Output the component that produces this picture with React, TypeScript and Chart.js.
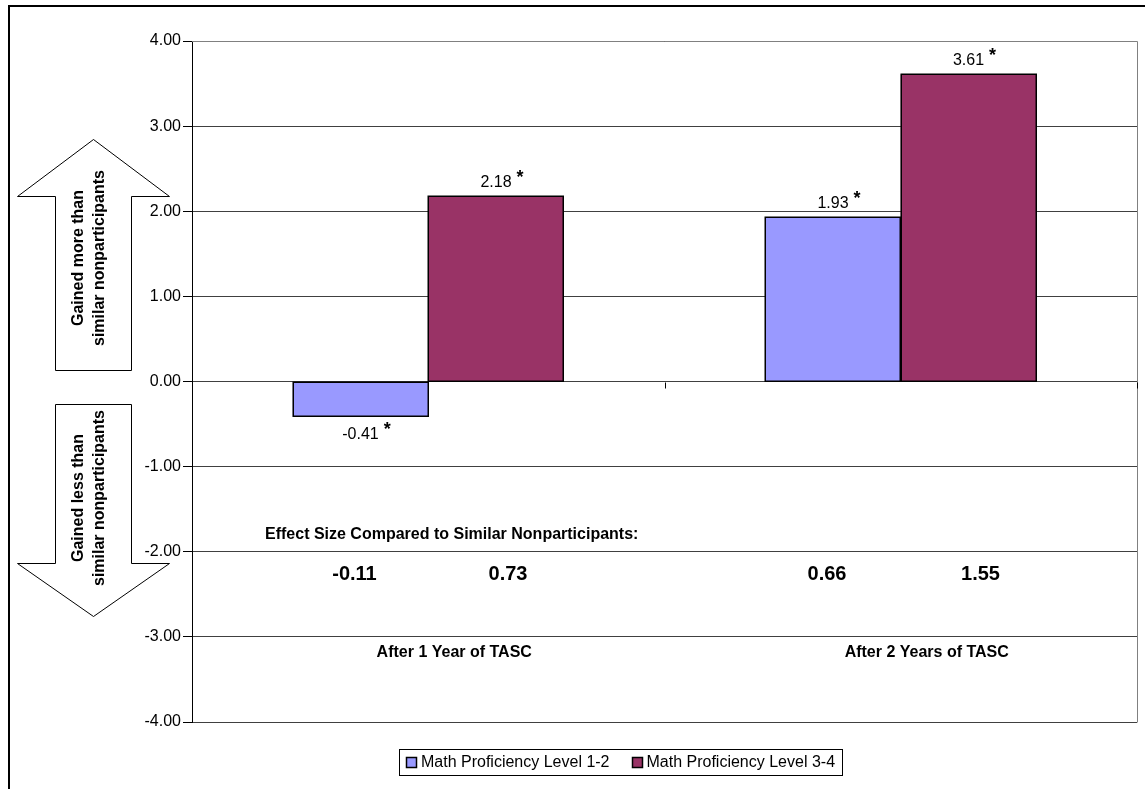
import React, { useEffect, useRef } from "react";
import { Chart, registerables } from "chart.js";

Chart.register(...registerables);

const categories = ["After 1 Year of TASC", "After 2 Years of TASC"];
const seriesNames = ["Math Proficiency Level 1-2", "Math Proficiency Level 3-4"];
const level12 = [-0.41, 1.93];
const level34 = [2.18, 3.61];
const significant12 = [true, true];
const significant34 = [true, true];
const effect12 = ["-0.11", "0.66"];
const effect34 = ["0.73", "1.55"];
const effectTitle = "Effect Size Compared to Similar Nonparticipants:";
const upArrowLines = ["Gained more than", "similar nonparticipants"];
const downArrowLines = ["Gained less than", "similar nonparticipants"];
const yMin = -4;
const yMax = 4;
const yStep = 1;

const colors = ["#9999FF", "#993366"];
const FONT = "'Liberation Sans', Arial, sans-serif";

const W = 1145;
const H = 789;

const overlay = {
  id: "overlay",
  beforeDraw(chart: any) {
    const ctx = chart.ctx;
    ctx.save();
    ctx.fillStyle = "#fff";
    ctx.fillRect(0, 0, W, H);
    // outer frame
    ctx.fillStyle = "#000";
    ctx.fillRect(8, 5, W, 2);
    ctx.fillRect(8, 5, 2, H);
    ctx.restore();
  },
  afterDatasetsDraw(chart: any) {
    // crisp black bar outlines
    const ctx = chart.ctx;
    ctx.save();
    ctx.strokeStyle = "#000";
    ctx.lineWidth = 1.5;
    chart.data.datasets.forEach((_: any, di: number) => {
      chart.getDatasetMeta(di).data.forEach((bar: any) => {
        const x0 = bar.x - bar.width / 2;
        const top = Math.min(bar.y, bar.base);
        const h = Math.abs(bar.base - bar.y);
        ctx.strokeRect(Math.round(x0) + 0.25, Math.round(top) + 0.25, Math.round(bar.width), Math.round(h));
      });
    });
    ctx.restore();
  },
  afterDraw(chart: any) {
    const ctx = chart.ctx;
    const ca = chart.chartArea;
    const ys = chart.scales.y;
    const xs = chart.scales.x;
    ctx.save();

    // plot border (top/right grey)
    ctx.strokeStyle = "#808080";
    ctx.lineWidth = 1;
    ctx.beginPath();
    ctx.moveTo(ca.left, Math.round(ca.top) + 0.5);
    ctx.lineTo(Math.round(ca.right) + 0.5, Math.round(ca.top) + 0.5);
    ctx.lineTo(Math.round(ca.right) + 0.5, Math.round(ca.bottom) + 0.5);
    ctx.stroke();

    // category axis tick marks at zero
    const y0 = Math.round(ys.getPixelForValue(0)) + 0.5;
    ctx.strokeStyle = "#000";
    ctx.beginPath();
    const catW = (ca.right - ca.left) / categories.length;
    for (let i = 0; i <= categories.length; i++) {
      const x = Math.round(ca.left + i * catW) + 0.5;
      ctx.moveTo(x, y0);
      ctx.lineTo(x, y0 + 6);
    }
    ctx.stroke();

    // value labels with asterisks
    const sigs = [significant12, significant34];
    chart.data.datasets.forEach((ds: any, di: number) => {
      const meta = chart.getDatasetMeta(di);
      meta.data.forEach((bar: any, i: number) => {
        const v = ds.data[i];
        const txt = v.toFixed(2);
        ctx.font = `16px ${FONT}`;
        ctx.fillStyle = "#000";
        ctx.textAlign = "center";
        ctx.textBaseline = "alphabetic";
        const base = v >= 0 ? bar.y - 9 : bar.y + 23;
        ctx.fillText(txt, bar.x, base);
        if (sigs[di][i]) {
          const w = ctx.measureText(txt).width;
          ctx.font = `bold 18px ${FONT}`;
          ctx.textAlign = "left";
          ctx.fillText("*", bar.x + w / 2 + 5, base - 4);
        }
      });
    });

    // effect size block
    ctx.fillStyle = "#000";
    ctx.font = `bold 16px ${FONT}`;
    ctx.textAlign = "left";
    ctx.textBaseline = "middle";
    ctx.fillText(effectTitle, ca.left + 73, ys.getPixelForValue(-1.8));
    ctx.font = `bold 20px ${FONT}`;
    ctx.textAlign = "center";
    const m0 = chart.getDatasetMeta(0);
    const m1 = chart.getDatasetMeta(1);
    const yEff = ys.getPixelForValue(-2.27);
    categories.forEach((_, i) => {
      ctx.fillText(effect12[i], m0.data[i].x - 6, yEff);
      ctx.fillText(effect34[i], m1.data[i].x + 12, yEff);
    });

    // category labels
    ctx.font = `bold 16px ${FONT}`;
    const yCat = ys.getPixelForValue(-3.18);
    categories.forEach((c, i) => {
      ctx.fillText(c, xs.getPixelForValue(i) + 26, yCat);
    });

    // arrows
    const drawArrow = (pts: number[][]) => {
      ctx.beginPath();
      pts.forEach((p, k) => (k === 0 ? ctx.moveTo(p[0] + 0.5, p[1] + 0.5) : ctx.lineTo(p[0] + 0.5, p[1] + 0.5)));
      ctx.closePath();
      ctx.fillStyle = "#fff";
      ctx.fill();
      ctx.strokeStyle = "#000";
      ctx.lineWidth = 1;
      ctx.stroke();
    };
    drawArrow([
      [93, 139],
      [169, 196],
      [131, 196],
      [131, 370],
      [55, 370],
      [55, 196],
      [17, 196],
    ]);
    drawArrow([
      [55, 404],
      [131, 404],
      [131, 563],
      [169, 563],
      [93, 616],
      [17, 563],
      [55, 563],
    ]);
    const drawRotText = (lines: string[], cx: number, cy: number) => {
      ctx.save();
      ctx.translate(cx, cy);
      ctx.rotate(-Math.PI / 2);
      ctx.font = `bold 16px ${FONT}`;
      ctx.fillStyle = "#000";
      ctx.textAlign = "center";
      ctx.textBaseline = "middle";
      lines.forEach((l, k) => ctx.fillText(l, 0, (k - 0.5) * 21));
      ctx.restore();
    };
    drawRotText(upArrowLines, 89, 258);
    drawRotText(downArrowLines, 89, 498);

    // legend
    ctx.font = `16px ${FONT}`;
    ctx.textBaseline = "middle";
    ctx.textAlign = "left";
    const box = 11;
    const gapAfterBox = 4;
    const itemGap = 22;
    const widths = seriesNames.map((s) => ctx.measureText(s).width);
    const total = widths.reduce((a, w) => a + box + gapAfterBox + w, 0) + itemGap * (seriesNames.length - 1);
    const lx0 = 399;
    const lx1 = 842;
    const ly0 = 749;
    const ly1 = 775;
    ctx.strokeStyle = "#000";
    ctx.lineWidth = 1;
    ctx.strokeRect(lx0 + 0.5, ly0 + 0.5, lx1 - lx0, ly1 - ly0);
    let lx = (lx0 + lx1) / 2 - total / 2;
    const ly = (ly0 + ly1) / 2 + 0.5;
    seriesNames.forEach((s, k) => {
      ctx.fillStyle = colors[k];
      ctx.fillRect(Math.round(lx), Math.round(ly - box / 2), box, box);
      ctx.strokeStyle = "#000";
      ctx.lineWidth = 1.5;
      ctx.strokeRect(Math.round(lx) + 0.5, Math.round(ly - box / 2) + 0.5, box - 1, box - 1);
      ctx.fillStyle = "#000";
      ctx.fillText(s, lx + box + gapAfterBox, ly);
      lx += box + gapAfterBox + widths[k] + itemGap;
    });

    ctx.restore();
  },
};

export default function App() {
  const ref = useRef<HTMLCanvasElement | null>(null);
  useEffect(() => {
    if (!ref.current) return;
    const chart = new Chart(ref.current, {
      type: "bar",
      data: {
        labels: categories,
        datasets: [
          {
            label: seriesNames[0],
            data: level12,
            backgroundColor: colors[0],
            borderWidth: 0,
            categoryPercentage: 0.5735,
            barPercentage: 1,
          },
          {
            label: seriesNames[1],
            data: level34,
            backgroundColor: colors[1],
            borderWidth: 0,
            categoryPercentage: 0.5735,
            barPercentage: 1,
          },
        ],
      },
      options: {
        responsive: false,
        animation: false,
        devicePixelRatio: 1,
        layout: { padding: { left: 0, right: 8, top: 41, bottom: 67 } },
        plugins: { legend: { display: false }, tooltip: { enabled: false } },
        scales: {
          x: { display: false, grid: { display: false } },
          y: {
            min: yMin,
            max: yMax,
            afterFit: (s: any) => {
              s.width = 192;
            },
            ticks: {
              stepSize: yStep,
              color: "#000",
              padding: 2,
              font: { family: FONT, size: 16 },
              callback: (v: any) => Number(v).toFixed(2),
            },
            grid: { color: "#404040", lineWidth: 1, tickLength: 9, tickColor: "#000" },
            border: { color: "#000", width: 1 },
          },
        },
      },
      plugins: [overlay],
    });
    return () => chart.destroy();
  }, []);
  return (
    <div style={{ position: "absolute", left: 0, top: 0, width: W, height: H, overflow: "hidden" }}>
      <canvas ref={ref} width={W} height={H} style={{ display: "block", width: W, height: H }} />
    </div>
  );
}
